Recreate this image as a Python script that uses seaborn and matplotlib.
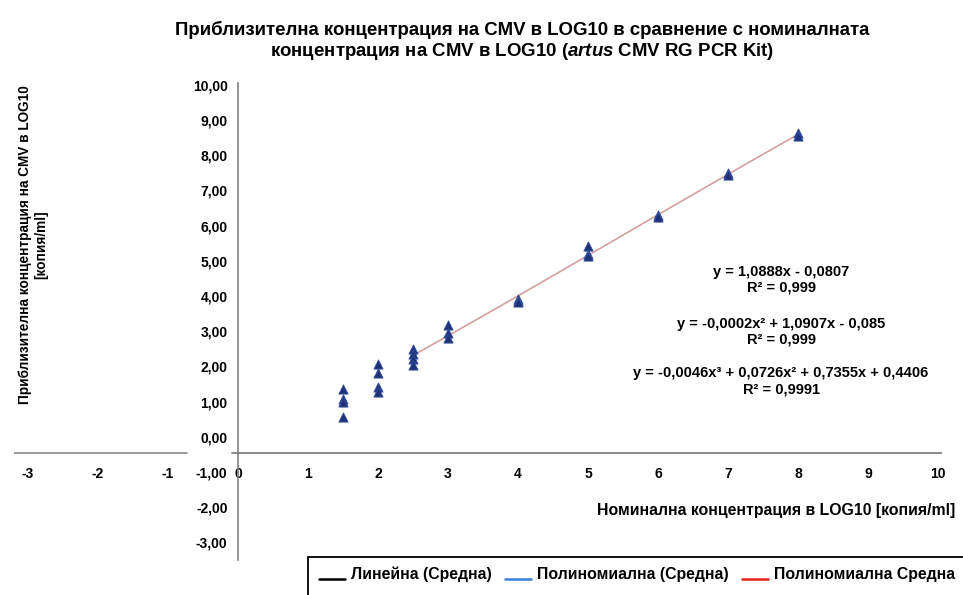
import numpy as np
import pandas as pd
import matplotlib
matplotlib.use("Agg")
import matplotlib.pyplot as plt
import seaborn as sns
from matplotlib.ticker import FuncFormatter, FixedLocator, MultipleLocator
from matplotlib.lines import Line2D
from matplotlib.patches import Rectangle
from matplotlib.legend_handler import HandlerLine2D

# ---------------- data ----------------
nominal = [1.5, 1.5, 1.5, 1.5,
           2, 2, 2, 2,
           2.5, 2.5, 2.5, 2.5,
           3, 3, 3,
           4, 4, 4,
           5, 5, 5,
           6, 6,
           7, 7,
           8, 8]
measured = [1.35, 1.08, 1.00, 0.57,
            2.08, 1.82, 1.42, 1.28,
            2.48, 2.35, 2.20, 2.05,
            3.17, 2.95, 2.82,
            3.92, 3.85, 3.82,
            5.42, 5.18, 5.15,
            6.30, 6.26,
            7.50, 7.43,
            8.62, 8.56]
trend_start = 2.5

title_line1 = "Приблизителна концентрация на CMV в LOG10 в сравнение с номиналната"
title_line2 = "концентрация на CMV в LOG10 ($\\mathit{artus}$ CMV RG PCR Kit)"
x_label = "Номинална концентрация в LOG10 [копия/ml]"
y_label = "Приблизителна концентрация на CMV в LOG10\n[копия/ml]"
equations = [
    ("y = 1,0888x - 0,0807", "R² = 0,999"),
    ("y = -0,0002x² + 1,0907x - 0,085", "R² = 0,999"),
    ("y = -0,0046x³ + 0,0726x² + 0,7355x + 0,4406", "R² = 0,9991"),
]
legend_labels = ["Линейна (Средна)", "Полиномиална (Средна)", "Полиномиална Средна"]
legend_colors = ["#000000", "#3b7fd6", "#e8201a"]

# ---------------- style ----------------
sns.set_theme(style="white")
plt.rcParams["font.family"] = ["Liberation Sans", "DejaVu Sans"]
plt.rcParams["font.weight"] = "bold"
plt.rcParams["text.color"] = "black"
plt.rcParams["axes.unicode_minus"] = False
plt.rcParams["mathtext.fontset"] = "custom"
plt.rcParams["mathtext.rm"] = "Liberation Sans:bold"
plt.rcParams["mathtext.it"] = "Liberation Sans:italic:bold"

W, H = 963, 595
def fx(px):
    return px / W
def fy(py):
    return 1 - py / H

fig = plt.figure(figsize=(W / 100, H / 100), dpi=100)
xlim = (-3.2, 10.05)
ylim = (-3.5, 10.05)
ax = fig.add_axes([fx(14), fy(559.8), (938 + 3.5 - 14) / W, (559.8 - 83.2) / H])

df = pd.DataFrame({"nominal": nominal, "measured": measured})
means = (df[df["nominal"] >= trend_start]
         .groupby("nominal", as_index=False)["measured"].mean())

# trend lines (linear, 2nd and 3rd order polynomial on the means)
for order, color, alpha in [(1, "#000000", 0.12), (2, "#3b7fd6", 0.15), (3, "#e0503c", 0.45)]:
    sns.regplot(data=means, x="nominal", y="measured", order=order, ci=None,
                scatter=False, truncate=True,
                line_kws=dict(color=color, lw=1.0, alpha=alpha), ax=ax)

sns.scatterplot(data=df, x="nominal", y="measured", marker="^", s=44,
                color="#1f3278", edgecolor="#34509e", linewidth=0.6,
                ax=ax, zorder=5, legend=False)

ax.set_xlim(*xlim)
ax.set_ylim(*ylim)
ax.set_xlabel("")
ax.set_ylabel("")

axis_y = -0.47
axis_color = "#808080"
for s in ["top", "right"]:
    ax.spines[s].set_visible(False)
ax.spines["left"].set_position(("data", 0))
ax.spines["left"].set_color(axis_color)
ax.spines["left"].set_linewidth(1.2)
ax.spines["bottom"].set_position(("data", axis_y))
ax.spines["bottom"].set_visible(False)

def xfrac(v):
    return (v - xlim[0]) / (xlim[1] - xlim[0])
ax.axhline(axis_y, xmin=0, xmax=xfrac(-0.73), color=axis_color, lw=1.1, zorder=1)
ax.axhline(axis_y, xmin=xfrac(-0.09), xmax=1, color=axis_color, lw=1.3, zorder=1)

ax.xaxis.set_major_locator(FixedLocator(np.arange(-3, 11)))
ax.xaxis.set_minor_locator(FixedLocator([v for v in np.arange(-2.5, 10, 1.0) if v != -0.5]))
ax.yaxis.set_major_locator(MultipleLocator(1))
ax.yaxis.set_minor_locator(MultipleLocator(0.5))
ax.xaxis.set_major_formatter(FuncFormatter(lambda v, p: f"{v:.0f}"))
ax.yaxis.set_major_formatter(FuncFormatter(lambda v, p: f"{v:.2f}".replace(".", ",")))

ax.tick_params(axis="x", which="both", direction="inout", length=6, width=1,
               color=axis_color, labelcolor="black", pad=7, labelsize=10)
ax.tick_params(axis="y", which="both", direction="out", length=3.5, width=1,
               color=axis_color, labelcolor="black", pad=4, labelsize=10)
ax.patch.set_alpha(0)

# ---------------- texts ----------------
fig.text(fx(522), fy(30), title_line1, ha="center", va="center", fontsize=13.4)
fig.text(fx(522), fy(52), title_line2, ha="center", va="center", fontsize=13.4)
fig.text(fx(955), fy(510), x_label, ha="right", va="center", fontsize=11.4)
fig.text(fx(33), fy(245), y_label, ha="center", va="center", rotation=90,
         multialignment="center", fontsize=9.8, linespacing=1.15)

eq_rows = [(272, 287), (324, 339), (373, 390)]
for (eq, r2), (y1, y2) in zip(equations, eq_rows):
    fig.text(fx(781), fy(y1), eq, ha="center", va="center", fontsize=10.5)
    fig.text(fx(781), fy(y2), r2, ha="center", va="center", fontsize=10.5)

# ---------------- legend ----------------
class BaselineHandler(HandlerLine2D):
    def create_artists(self, legend, orig_handle, xdescent, ydescent,
                       width, height, fontsize, trans):
        return super().create_artists(legend, orig_handle, xdescent,
                                      ydescent + 0.75 * fontsize, width, height,
                                      fontsize, trans)

handles = [Line2D([], [], color=c, lw=1.8) for c in legend_colors]
fig.legend(handles, legend_labels, loc="upper left",
           bbox_to_anchor=(fx(319), fy(566)), ncol=3, frameon=False,
           fontsize=11.4, handlelength=1.65, handletextpad=0.4,
           columnspacing=0.8, borderaxespad=0, borderpad=0,
           handler_map={Line2D: BaselineHandler()})
fig.add_artist(Rectangle((fx(308), -0.1), 1.2, fy(557) + 0.1,
                         transform=fig.transFigure, fill=False,
                         edgecolor="black", lw=1.3, clip_on=False))

fig.savefig("out.png", dpi=100)
